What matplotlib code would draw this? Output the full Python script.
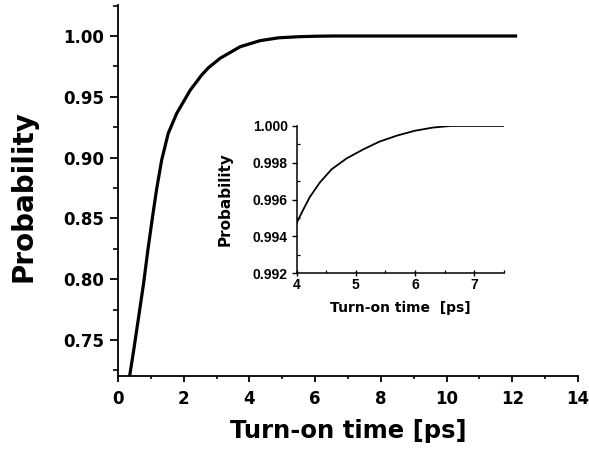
import matplotlib
matplotlib.use("Agg")
import matplotlib.pyplot as plt
from matplotlib.ticker import MultipleLocator, FormatStrFormatter

plt.rcParams['font.family'] = ['DejaVu Sans']
plt.rcParams['font.weight'] = 'bold'

# main curve
time_main = [0.36, 0.48, 0.63, 0.78, 0.91, 1.05, 1.18, 1.33, 1.53, 1.79, 2.20, 2.55,
             2.75, 3.11, 3.72, 4.33, 4.89, 5.5, 6.0, 6.6, 7.0, 8.0, 10.0, 12.1]
prob_main = [0.7212, 0.7418, 0.7692, 0.7966, 0.824, 0.851, 0.8747, 0.898, 0.920, 0.9365,
             0.9555, 0.968, 0.9738, 0.9817, 0.9912, 0.9962, 0.9985, 0.9994, 0.9998, 1.0,
             1.0, 1.0, 1.0, 1.0]

# inset curve
time_inset = [4.0, 4.1, 4.22, 4.39, 4.59, 4.84, 5.12, 5.4, 5.7, 6.0, 6.3, 6.6, 7.0, 7.53]
prob_inset = [0.99475, 0.99540, 0.99614, 0.99693, 0.99765, 0.99823, 0.99872, 0.99915,
              0.99948, 0.99974, 0.99991, 1.0, 1.0, 1.0]

main_xticks = [0, 2, 4, 6, 8, 10, 12, 14]
main_yticks = [0.75, 0.80, 0.85, 0.90, 0.95, 1.00]
inset_xticks = [4, 5, 6, 7]
inset_yticks = [0.992, 0.994, 0.996, 0.998, 1.000]

fig = plt.figure(figsize=(5.89, 4.53), dpi=100)
ax = fig.add_axes([0.2003, 0.170, 0.781, 0.819])
ax.plot(time_main, prob_main, color='black', lw=2.3, solid_joinstyle='round')
ax.set_xlim(0, 14)
ax.set_ylim(0.7204, 1.0255)
ax.set_xticks(main_xticks)
ax.set_yticks(main_yticks)
ax.yaxis.set_major_formatter(FormatStrFormatter('%.2f'))
ax.xaxis.set_minor_locator(MultipleLocator(1))
ax.yaxis.set_minor_locator(MultipleLocator(0.025))
for s in ['top', 'right']:
    ax.spines[s].set_visible(False)
for s in ['left', 'bottom']:
    ax.spines[s].set_linewidth(1.3)
ax.tick_params(axis='x', which='major', direction='out', length=4, width=1.3, labelsize=12, pad=6)
ax.tick_params(axis='x', which='minor', direction='out', length=2.5, width=1.2)
ax.tick_params(axis='y', which='major', direction='out', length=6, width=1.3, labelsize=12, pad=4)
ax.tick_params(axis='y', which='minor', direction='out', length=3.4, width=1.2)
ax.set_xlabel('Turn-on time [ps]', fontsize=17.5, fontweight='bold')
ax.xaxis.set_label_coords(0.5, -0.115)
ax.set_ylabel('Probability', fontsize=20, fontweight='bold')
ax.yaxis.set_label_coords(-0.176, 0.485)

ins = fig.add_axes([0.504, 0.397, 0.351, 0.325])
ins.plot(time_inset, prob_inset, color='black', lw=1.3, solid_joinstyle='round')
ins.set_xlim(4, 7.5)
ins.set_ylim(0.992, 1.000)
ins.set_xticks(inset_xticks)
ins.set_yticks(inset_yticks)
ins.yaxis.set_major_formatter(FormatStrFormatter('%.3f'))
ins.xaxis.set_minor_locator(MultipleLocator(0.5))
ins.yaxis.set_minor_locator(MultipleLocator(0.001))
for s in ['top', 'right']:
    ins.spines[s].set_visible(False)
for s in ['left', 'bottom']:
    ins.spines[s].set_linewidth(1.1)
ins.tick_params(axis='x', which='major', direction='inout', length=5, width=1.0, labelsize=10, pad=1)
ins.tick_params(axis='y', which='major', direction='out', length=3.5, width=1.0, labelsize=10, pad=3)
ins.tick_params(which='minor', direction='in', length=2.5, width=0.9)
for lab in ins.get_xticklabels() + ins.get_yticklabels():
    lab.set_fontfamily(['Liberation Sans', 'DejaVu Sans'])
    lab.set_fontweight('bold')
ins.set_xlabel('Turn-on time  [ps]', fontsize=10, fontweight='bold')
ins.xaxis.set_label_coords(0.5, -0.19)
ins.set_ylabel('Probability', fontsize=11, fontweight='bold')
ins.yaxis.set_label_coords(-0.31, 0.5)
ins.patch.set_alpha(0)

fig.savefig('out.png', dpi=100)
